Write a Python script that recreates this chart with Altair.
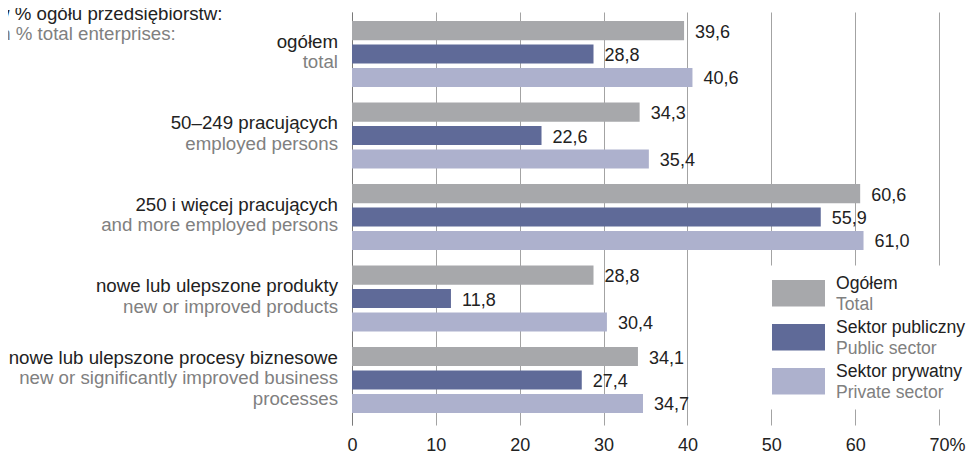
import altair as alt
import pandas as pd

# ---- data ----
categories_pl = [
    "ogółem",
    "50–249 pracujących",
    "250 i więcej pracujących",
    "nowe lub ulepszone produkty",
    "nowe lub ulepszone procesy biznesowe",
]
categories_en = [
    ["total"],
    ["employed persons"],
    ["and more employed persons"],
    ["new or improved products"],
    ["new or significantly improved business", "processes"],
]
series_pl = ["Ogółem", "Sektor publiczny", "Sektor prywatny"]
series_en = ["Total", "Public sector", "Private sector"]
values_total = [39.6, 34.3, 60.6, 28.8, 34.1]
values_public = [28.8, 22.6, 55.9, 11.8, 27.4]
values_private = [40.6, 35.4, 61.0, 30.4, 34.7]
series_colors = ["#a7a8ab", "#5f6a98", "#adb1cd"]
x_ticks = [0, 10, 20, 30, 40, 50, 60, 70]

FONT = "Liberation Sans"
BLACK = "#222222"
GREY = "#808080"

rows = []
for vals, s_pl, s_en in zip([values_total, values_public, values_private], series_pl, series_en):
    for cat, v in zip(categories_pl, vals):
        rows.append({
            "category": cat,
            "series": s_pl,
            "series_en": s_en,
            "value": v,
            "label": f"{v:.1f}".replace(".", ","),
        })
bars_df = pd.DataFrame(rows)

# one row per label line; "slot" = half-line position inside the group
pl_rows, en_rows = [], []
for cat, en in zip(categories_pl, categories_en):
    n = 1 + len(en)
    first = 2 - (n - 1)  # 2 lines -> 1, 3 lines -> 0
    pl_rows.append({"category": cat, "line": cat, "slot": first, "zero": 0})
    for i, t in enumerate(en):
        en_rows.append({"category": cat, "line": t, "slot": first + 2 * (i + 1), "zero": 0})
pl_df = pd.DataFrame(pl_rows)
en_df = pd.DataFrame(en_rows)

# ---- scales / encodings ----
y_enc = alt.Y(
    "category:N",
    sort=categories_pl,
    scale=alt.Scale(paddingInner=0.19, paddingOuter=0.129, align=0.43),
    axis=alt.Axis(labels=False, ticks=False, domain=True, domainColor="#7a7a7a",
                  domainWidth=1, grid=False, title=None),
)
y_plain = alt.Y("category:N", sort=categories_pl)
x_enc = alt.X(
    "value:Q",
    scale=alt.Scale(domain=[0, 70], nice=False, zero=True),
    axis=alt.Axis(
        values=x_ticks, title=None, domain=False, ticks=False, grid=True,
        gridColor="#a3a3a3", gridWidth=1, labelFontSize=18, labelFont=FONT,
        labelColor=BLACK, labelPadding=11, labelFlush=False, labelOverlap=False,
        labelExpr="datum.value == 70 ? '70%' : datum.label",
        labelOffset={"condition": {"test": "datum.value == 70", "value": 8}, "value": 0},
    ),
)
series_off = alt.YOffset(
    "series:N", sort=series_pl,
    scale=alt.Scale(type="band", domain=series_pl, paddingInner=0.185, paddingOuter=0),
)
slot_off = alt.YOffset(
    "slot:O",
    scale=alt.Scale(type="band", domain=[0, 1, 2, 3, 4], paddingInner=0, paddingOuter=0.72),
)

rect_path = "M-1,-0.5H1V0.5H-1Z"
legend_common = dict(
    orient="none", legendX=414, padding=6,
    symbolType=rect_path, symbolSize=2809, symbolStrokeWidth=0,
    clipHeight=43.3, rowPadding=0, labelOffset=11,
    labelFontSize=17.6, labelFont=FONT, labelLimit=400, title=None,
)

bars = alt.Chart(bars_df).mark_bar(strokeWidth=0).encode(
    y=y_enc,
    yOffset=series_off,
    x=x_enc,
    color=alt.Color(
        "series:N",
        scale=alt.Scale(domain=series_pl, range=series_colors),
        legend=alt.Legend(legendY=253.6, fillColor="white", labelBaseline="bottom",
                          labelColor=BLACK, zindex=1, **legend_common),
    ),
    stroke=alt.Stroke(
        "series_en:N",
        scale=alt.Scale(domain=series_en, range=["transparent"] * 3),
        legend=alt.Legend(legendY=256, labelBaseline="top", labelColor=GREY,
                          symbolFillColor="transparent", zindex=2, **legend_common),
    ),
)

value_text = alt.Chart(bars_df).mark_text(
    align="left", baseline="middle", dx=11, dy=2, fontSize=18, font=FONT, color=BLACK
).encode(
    y=y_plain,
    yOffset=series_off,
    x="value:Q",
    text="label:N",
)

cat_pl = alt.Chart(pl_df).mark_text(
    align="right", baseline="middle", dx=-14, dy=-2, fontSize=18.7, font=FONT, color=BLACK,
).encode(
    y=y_plain,
    yOffset=slot_off,
    x=alt.X("zero:Q"),
    text="line:N",
)

cat_en = alt.Chart(en_df).mark_text(
    align="right", baseline="middle", dx=-14, dy=-2, fontSize=18.7, font=FONT, color=GREY,
).encode(
    y=y_plain,
    yOffset=slot_off,
    x=alt.X("zero:Q"),
    text="line:N",
)

chart = alt.layer(bars, value_text, cat_pl, cat_en).resolve_scale(
    yOffset="independent"
).properties(
    width=587,
    height=413,
    padding={"left": 344, "top": 4, "right": 27, "bottom": 28},
    autosize=alt.AutoSizeParams(type="none"),
    background="white",
    title=alt.TitleParams(
        text="w % ogółu przedsiębiorstw:",
        subtitle="in % total enterprises:",
        anchor="start", frame="group", orient="top", offset=0,
        dx=-356, dy=32,
        fontSize=18.7, subtitleFontSize=18.7, font=FONT, subtitleFont=FONT,
        fontWeight="normal", color=BLACK, subtitleColor=GREY, subtitlePadding=2,
    ),
).configure_view(stroke=None)

chart.save("out.html", embed_options={"renderer": "svg", "actions": False})
